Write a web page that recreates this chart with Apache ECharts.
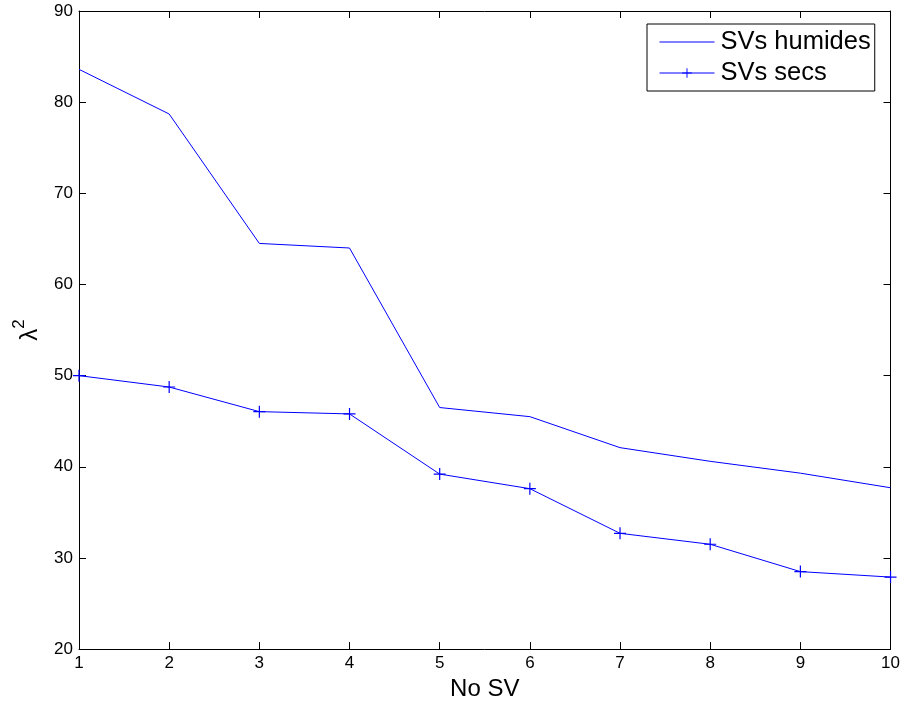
<!DOCTYPE html>
<html><head><meta charset="utf-8">
<script src="https://cdn.jsdelivr.net/npm/echarts@6/dist/echarts.min.js"></script>
<style>html,body{margin:0;padding:0;background:#fff;overflow:hidden}#c{width:903px;height:706px}</style>
</head><body><div id="c"></div>
<script>
const categories = [1, 2, 3, 4, 5, 6, 7, 8, 9, 10];
const humides = [83.6, 78.7, 64.5, 64.0, 46.5, 45.5, 42.1, 40.6, 39.3, 37.7];
const secs = [50.0, 48.75, 46.05, 45.8, 39.2, 37.6, 32.7, 31.5, 28.5, 27.9];
const seriesNames = ['SVs humides', 'SVs secs'];
const xLabel = 'No SV';

const FONT = 'Liberation Sans, Arial, Helvetica, sans-serif';
const plus = 'path://M4.5,0H5.5V4.5H10V5.5H5.5V10H4.5V5.5H0V4.5H4.5Z';
const lineIcon = 'path://M0,0M0,5.5H55V6.5H0ZM55,12';
const chart = echarts.init(document.getElementById('c'), null, {renderer: 'canvas'});
const axisCommon = {
  axisLine: {show: true, onZero: false, lineStyle: {color: '#000', width: 1}},
  axisTick: {show: true, inside: true, length: 7, lineStyle: {color: '#000'}},
  splitLine: {show: false}
};
chart.setOption({
  animation: false,
  backgroundColor: '#fff',
  grid: {left: 79, right: 12, top: 11, bottom: 53, containLabel: false},
  xAxis: [
    Object.assign({type: 'value', min: 1, max: 10, interval: 1, position: 'bottom',
      name: xLabel, nameLocation: 'middle', nameGap: 18,
      nameTextStyle: {fontFamily: FONT, fontSize: 24, color: '#000'},
      axisLabel: {fontFamily: FONT, fontSize: 17, color: '#000', margin: 6}}, axisCommon),
    Object.assign({type: 'value', min: 1, max: 10, interval: 1, position: 'top',
      axisLabel: {show: false}}, axisCommon)
  ],
  yAxis: [
    Object.assign({type: 'value', min: 20, max: 90, interval: 10, position: 'left',
      name: '{l|λ}{s|2}', nameLocation: 'middle', nameGap: 37, nameRotate: 90,
      nameTextStyle: {fontFamily: FONT, color: '#000',
        rich: {l: {fontFamily: FONT, fontSize: 24, color: '#000', verticalAlign: 'bottom'},
               s: {fontFamily: FONT, fontSize: 17, color: '#000', verticalAlign: 'bottom', padding: [0,0,14,0]}}},
      axisLabel: {fontFamily: FONT, fontSize: 17, color: '#000', margin: 6}}, axisCommon),
    Object.assign({type: 'value', min: 20, max: 90, interval: 10, position: 'right',
      axisLabel: {show: false}}, axisCommon)
  ],
  legend: {
    orient: 'vertical', left: 647, top: 24,
    backgroundColor: '#fff', borderColor: '#000', borderWidth: 1,
    padding: [5, 4, 5, 12], itemGap: 5, itemWidth: 55, itemHeight: 12,
    lineStyle: {width: 1},
    textStyle: {fontFamily: FONT, fontSize: 25.5, color: '#000', padding: [0, 0, 0, 1]},
    data: [{name: seriesNames[0], icon: lineIcon}, {name: seriesNames[1]}]
  },
  series: [
    {name: seriesNames[0], type: 'line', data: categories.map((x, i) => [x, humides[i]]),
      symbol: 'none', lineStyle: {color: '#0000ff', width: 1}, itemStyle: {color: '#0000ff'}},
    {name: seriesNames[1], type: 'line', data: categories.map((x, i) => [x, secs[i]]),
      symbol: plus, symbolSize: 12, showAllSymbol: true,
      lineStyle: {color: '#0000ff', width: 1}, itemStyle: {color: '#0000ff'}}
  ]
});
</script></body></html>
